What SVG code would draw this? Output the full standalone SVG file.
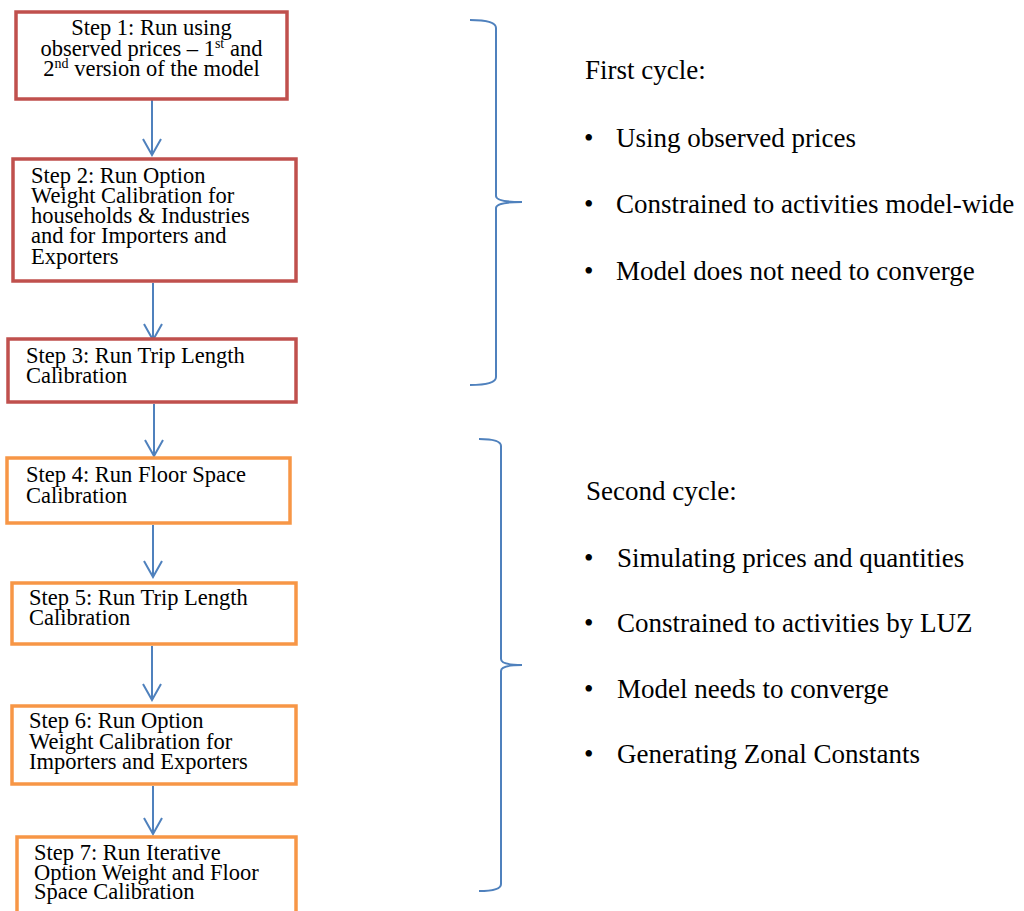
<svg xmlns="http://www.w3.org/2000/svg" width="1024" height="911" viewBox="0 0 1024 911">
<style>
.bg{fill:#ffffff}
.red{fill:#ffffff;stroke:#C0504D;stroke-width:3.5}
.org{fill:#ffffff;stroke:#F79646;stroke-width:3.5}
.t{font-family:"Liberation Serif","Times New Roman",serif;font-size:22.5px;fill:#000000}
.r{font-family:"Liberation Serif","Times New Roman",serif;font-size:27px;fill:#000000}
.sup{font-size:14px}
.conn{stroke:#4F81BD;stroke-width:2;fill:none}
.br{stroke:#4F81BD;stroke-width:2;fill:none}
</style>
<defs>
<marker id="arr" viewBox="0 0 20 20" refX="18" refY="10" markerWidth="20" markerHeight="20" markerUnits="userSpaceOnUse" orient="auto">
<path d="M2,1 L18,10 L2,19" fill="none" stroke="#4F81BD" stroke-width="2"/>
</marker>
</defs>
<rect class="bg" x="0" y="0" width="1024" height="911"/>
<g id="connectors">
<line class="conn" x1="152" y1="100" x2="152" y2="155" marker-end="url(#arr)"/>
<line class="conn" x1="153" y1="283" x2="153" y2="340" marker-end="url(#arr)"/>
<line class="conn" x1="154" y1="404" x2="154" y2="456" marker-end="url(#arr)"/>
<line class="conn" x1="153" y1="525" x2="153" y2="577" marker-end="url(#arr)"/>
<line class="conn" x1="152" y1="646" x2="152" y2="700" marker-end="url(#arr)"/>
<line class="conn" x1="153" y1="786" x2="153" y2="834" marker-end="url(#arr)"/>
</g>
<g id="step1">
<rect class="red" x="16" y="12" width="271" height="87"/>
<text class="t" x="151.5" y="35" text-anchor="middle">Step 1: Run using</text>
<text class="t" x="151.5" y="56" text-anchor="middle">observed prices – 1<tspan class="sup" dy="-8">st</tspan><tspan dy="8"> and</tspan></text>
<text class="t" x="151.5" y="76" text-anchor="middle">2<tspan class="sup" dy="-8">nd</tspan><tspan dy="8"> version of the model</tspan></text>
</g>
<g id="step2">
<rect class="red" x="13" y="159" width="283" height="122"/>
<text class="t" x="31" y="183">Step 2: Run Option</text>
<text class="t" x="31" y="203">Weight Calibration for</text>
<text class="t" x="31" y="223">households &amp; Industries</text>
<text class="t" x="31" y="243">and for Importers and</text>
<text class="t" x="31" y="264">Exporters</text>
</g>
<g id="step3">
<rect class="red" x="8" y="339" width="288" height="63"/>
<text class="t" x="26" y="363">Step 3: Run Trip Length</text>
<text class="t" x="26" y="383">Calibration</text>
</g>
<g id="step4">
<rect class="org" x="7" y="458" width="283" height="65"/>
<text class="t" x="26" y="482">Step 4: Run Floor Space</text>
<text class="t" x="26" y="503">Calibration</text>
</g>
<g id="step5">
<rect class="org" x="12" y="583" width="284" height="61"/>
<text class="t" x="29" y="605">Step 5: Run Trip Length</text>
<text class="t" x="29" y="625">Calibration</text>
</g>
<g id="step6">
<rect class="org" x="12" y="706" width="284" height="78"/>
<text class="t" x="29" y="728">Step 6: Run Option</text>
<text class="t" x="29" y="749">Weight Calibration for</text>
<text class="t" x="29" y="769">Importers and Exporters</text>
</g>
<g id="step7">
<rect class="org" x="17" y="837" width="279" height="80"/>
<text class="t" x="34" y="860">Step 7: Run Iterative</text>
<text class="t" x="34" y="880">Option Weight and Floor</text>
<text class="t" x="34" y="899">Space Calibration</text>
</g>
<g id="bracket1">
<path class="br" d="M470,20 Q496,20 496,28 L496,196 Q496,202 522,202 Q496,202 496,208 L496,377 Q496,385 470,385"/>
</g>
<g id="bracket2">
<path class="br" d="M479,439 Q501,439 501,446 L501,659 Q501,665 522,665 Q501,665 501,671 L501,884 Q501,891 479,891"/>
</g>
<g id="cycle1">
<text class="r" x="585" y="79">First cycle:</text>
<text class="r" x="584" y="147">•</text>
<text class="r" x="616" y="147">Using observed prices</text>
<text class="r" x="584" y="213">•</text>
<text class="r" x="616" y="213">Constrained to activities model-wide</text>
<text class="r" x="584" y="280">•</text>
<text class="r" x="616" y="280">Model does not need to converge</text>
</g>
<g id="cycle2">
<text class="r" x="586" y="500">Second cycle:</text>
<text class="r" x="584" y="567">•</text>
<text class="r" x="617" y="567">Simulating prices and quantities</text>
<text class="r" x="584" y="632">•</text>
<text class="r" x="617" y="632">Constrained to activities by LUZ</text>
<text class="r" x="584" y="698">•</text>
<text class="r" x="617" y="698">Model needs to converge</text>
<text class="r" x="584" y="763">•</text>
<text class="r" x="617" y="763">Generating Zonal Constants</text>
</g>
</svg>
